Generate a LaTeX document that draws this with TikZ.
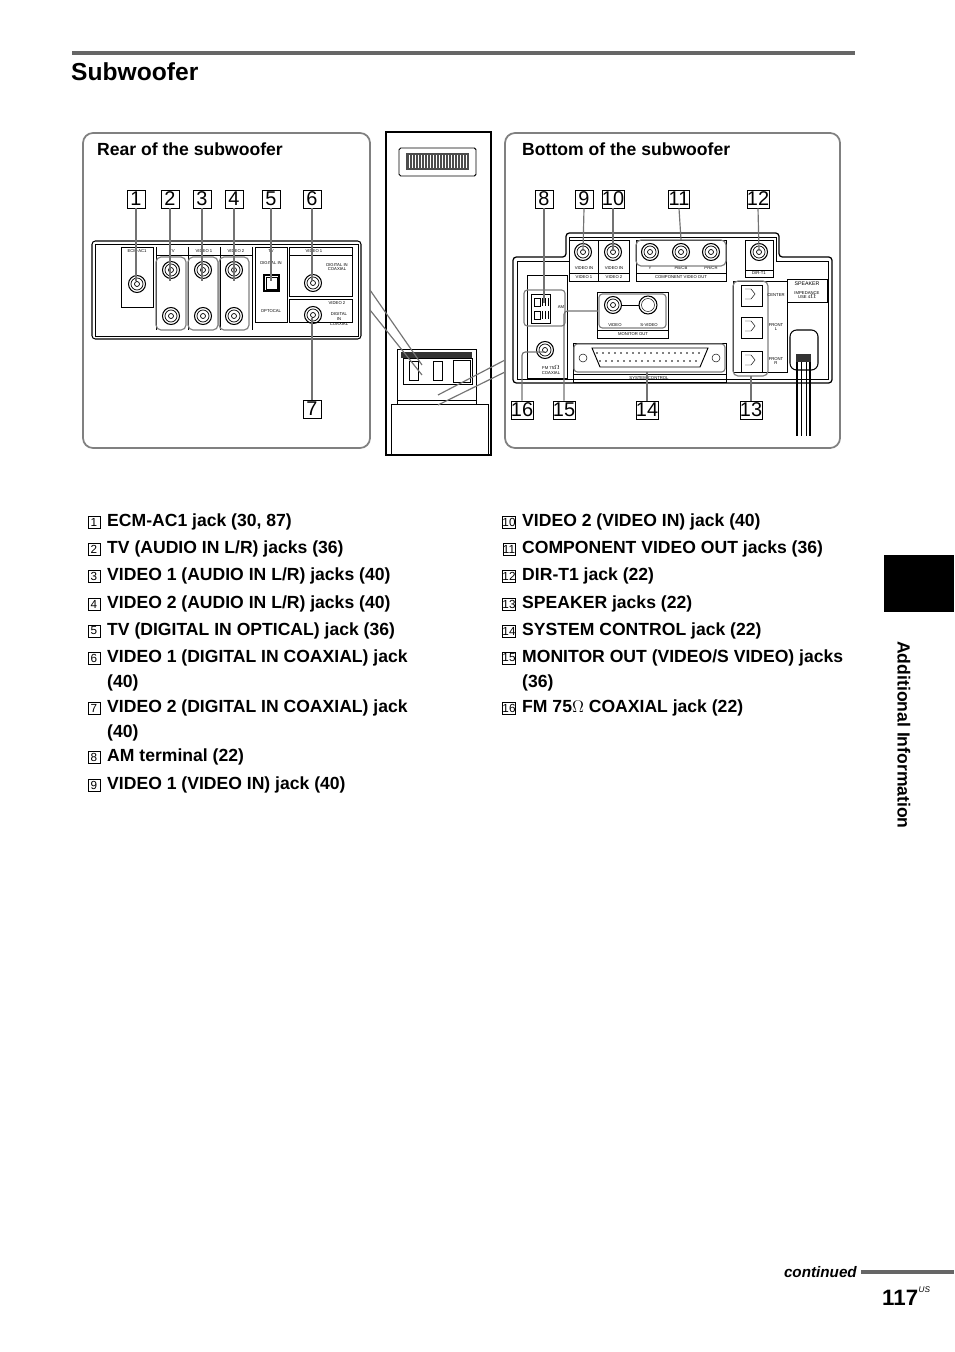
\documentclass[tikz,border=0pt]{standalone}
\usepackage{fontspec}
\setmainfont{Liberation Sans}
\usetikzlibrary{positioning}
\newcommand\tinyfont{\fontsize{3.6}{4}\selectfont}
\begin{document}
\begin{tikzpicture}[
        x=0.3mm, y=-0.3mm,
        marker/.style={draw=black, line width=0.6pt, minimum width=5.4mm, minimum height=5.4mm,
                       inner sep=0pt, font=\fontsize{17}{17}\selectfont},
        listmark/.style={draw=black, line width=0.4pt, minimum width=3.6mm, minimum height=3.6mm,
                       inner sep=0pt, font=\fontsize{10}{10}\selectfont},
        item/.style={anchor=north west, align=left, font=\bfseries\fontsize{15}{21}\selectfont, inner sep=0pt},
        panel/.style={draw=black!50, line width=1.5pt, rounded corners=3mm},
        paneltitle/.style={anchor=west, font=\bfseries\fontsize{15}{15}\selectfont, inner sep=0pt},
        lead/.style={line width=1pt, black!55},
        jacklabel/.style={font=\tinyfont, inner sep=0pt}
    ]
        \useasboundingbox (0,0) rectangle (954,1352);
        % heading
        \draw[black!60, line width=1.2mm] (72,53) -- (855,53);
        \node[anchor=west, font=\bfseries\fontsize{21}{21}\selectfont, inner sep=0pt] (title) at (71,72) {Subwoofer};

        % rear panel
        \draw[panel] (83,133) rectangle (370,448);
        \node[paneltitle] (reartitle) at (97,149) {Rear of the subwoofer};
        \draw[line width=0.9pt, rounded corners=1mm] (92,241) rectangle (361,339);
        \draw[line width=0.4pt] (95,244) rectangle (358,336);
        \draw[thin] (121,247) rectangle (153,307);
        \node[jacklabel] (ecmlbl) at (137,251) {ECM-AC1};
        \draw[thin] (156,247) -- (156,330) (188,247) -- (188,330) (220,247) -- (220,330) (252,247) -- (252,330);
        \draw[thin] (156,255) -- (252,255);
        \node[jacklabel] (tvlbl) at (172,251) {TV};
        \node[jacklabel] (v1lbl) at (204,251) {VIDEO 1};
        \node[jacklabel] (v2lbl) at (236,251) {VIDEO 2};
        \draw[thin] (255,247) rectangle (287,322);
        \node[jacklabel] (dtvlbl) at (271,251) {TV};
        \node[jacklabel] (dinlbl) at (271,263) {DIGITAL IN};
        \node[jacklabel] (optlbl) at (271,311) {OPTOCAL};
        \draw[thin] (289,247) rectangle (352,296);
        \node[jacklabel] (dv1lbl) at (314,251) {VIDEO 1};
        \draw[thin] (289,255) -- (352,255);
        \node[jacklabel, align=center] (coax1lbl) at (337,267) {DIGITAL IN\\COAXIAL};
        \draw[thin] (289,299) rectangle (352,322);
        \node[jacklabel] (dv2lbl) at (337,303) {VIDEO 2};
        \node[jacklabel, align=center] (coax2lbl) at (339,319) {DIGITAL\\IN\\COAXIAL};
        \foreach \px/\py in {137/284, 171/270, 171/316, 203/270, 203/316, 234/270, 234/316, 313/283, 313/315} {
            \draw[line width=0.9pt] (\px,\py) circle (8.5);
            \draw[line width=0.6pt] (\px,\py) circle (6);
            \draw[line width=0.6pt] (\px,\py) circle (2.5);
        }
        \foreach \gx in {171, 203, 234}
            \draw[black!50, line width=1pt, rounded corners=1.5mm] (\gx-15,257) rectangle (\gx+15,330);
        \draw[line width=1.3pt] (264,275) rectangle (279,291);
        \draw[thin] (266,277) rectangle (277,289);

        \foreach \n/\mx in {1/136, 2/170, 3/202, 4/234, 5/271, 6/312} {
            \node[marker] (m\n) at (\mx,199) {\n};
            \draw[lead] (m\n.south) -- (\mx,281);
        }
        \node[marker] (m7) at (312,409) {7};
        \draw[lead] (m7.north) -- (312,318);

        % subwoofer body
        \draw[line width=1.2pt] (386,132) -- (386,455) -- (491,455) -- (491,132) -- cycle;
        \draw[line width=0.8pt, rounded corners=0.5mm] (399,148) rectangle (476,176);
        \fill[black!70] (406,153) rectangle (469,170);
        \foreach \gx in {409,412,...,466} \draw[white, thin] (\gx,155) -- (\gx,168);
        \draw[line width=0.8pt] (397,349) rectangle (476,404);
        \fill[black!80] (401,352) rectangle (472,358);
        \draw[line width=0.6pt] (403,358) rectangle (472,384);
        \draw[thin] (409,361) rectangle (418,380) (433,361) rectangle (442,380) (453,360) rectangle (470,382);
        \draw[thin] (397,400) -- (476,400);
        \draw[line width=0.8pt] (391,404) rectangle (488,455);
        \draw[line width=1pt] (391,455) -- (398,455) (430,455) -- (438,455) (478,455) -- (486,455);
        \draw[lead] (370,290) -- (422,365);
        \draw[lead] (370,310) -- (422,375);
        \draw[lead] (505,360) -- (438,395);
        \draw[lead] (505,372) -- (438,405);

        % bottom panel
        \draw[panel] (505,133) rectangle (840,448);
        \node[paneltitle] (bottitle) at (522,149) {Bottom of the subwoofer};
        \draw[line width=1.1pt, rounded corners=1mm] (513,383) -- (513,257) -- (566,257) -- (566,233) -- (779,233) -- (779,257) -- (832,257) -- (832,383) -- cycle;
        \draw[line width=0.4pt] (517,379) -- (517,261) -- (569,261) -- (569,237) -- (776,237) -- (776,261) -- (828,261) -- (828,379) -- cycle;
        \draw[thin] (569,240) rectangle (629,281) (598,240) -- (598,281) (569,273) -- (629,273);
        \node[jacklabel] (vin1lbl) at (584,268) {VIDEO IN};
        \node[jacklabel] (vin2lbl) at (614,268) {VIDEO IN};
        \node[jacklabel] (vid1lbl) at (584,277) {VIDEO 1};
        \node[jacklabel] (vid2lbl) at (614,277) {VIDEO 2};
        \draw[thin] (636,240) rectangle (726,281) (636,273) -- (726,273);
        \node[jacklabel] (yl) at (650,268) {Y};
        \node[jacklabel] (pbl) at (681,268) {PB/CB};
        \node[jacklabel] (prl) at (711,268) {PR/CR};
        \node[jacklabel] (compl) at (681,277) {COMPONENT VIDEO OUT};
        \draw[thin] (745,240) rectangle (773,277) (745,270) -- (773,270);
        \node[jacklabel] (dirl) at (759,273) {DIR-T1};
        \draw[thin] (527,275) rectangle (567,378);
        \draw[black!50, line width=1pt, rounded corners=1mm] (524,290) rectangle (565,326);
        \draw[line width=0.8pt] (531,294) rectangle (550,323);
        \draw[thin] (534,298) rectangle (540,306) (534,311) rectangle (540,319);
        \foreach \ty in {298,311} \foreach \tx in {542,545,548} \draw[thin] (\tx,\ty) -- (\tx,\ty+8);
        \node[jacklabel] (aml) at (561,307) {AM};
        \node[jacklabel, align=center] (fml) at (551,370) {FM 75$\Omega$\\COAXIAL};
        \draw[thin] (597,292) rectangle (668,338) (597,330) -- (668,330);
        \draw[black!50, line width=1pt, rounded corners=1mm] (599,294) rectangle (666,328);
        \node[jacklabel] (videol) at (615,325) {VIDEO};
        \node[jacklabel] (svideol) at (649,325) {S-VIDEO};
        \node[jacklabel] (monl) at (633,334) {MONITOR OUT};
        \foreach \px/\py in {583/252, 613/252, 650/252, 681/252, 711/252, 759/252, 613/305, 545/350} {
            \draw[line width=0.9pt] (\px,\py) circle (8.5);
            \draw[line width=0.6pt] (\px,\py) circle (6);
            \draw[line width=0.6pt] (\px,\py) circle (2.5);
        }
        \draw[black!50, line width=1pt, rounded corners=1.5mm] (636,240) rectangle (726,266);
        \draw[line width=0.9pt] (648,305) circle (9);
        \draw[thin] (648,305) circle (6.5);
        \draw[thin] (621,305) -- (639,305);
        \draw[thin] (573,343) rectangle (726,382) (573,374) -- (726,374);
        \draw[black!50, line width=1pt, rounded corners=1mm] (574,344) rectangle (725,372);
        \draw[line width=0.8pt] (592,348) -- (708,348) -- (700,367) -- (600,367) -- cycle;
        \foreach \sx in {597,603,...,703} \fill (\sx,353) circle (0.9);
        \foreach \sx in {600,606,...,700} \fill (\sx,361) circle (0.9);
        \draw[thin] (583,358) circle (4) (716,358) circle (4);
        \node[jacklabel] (sysl) at (649,378) {SYSTEM CONTROL};
        \draw[thin] (733,281) rectangle (787,372);
        \draw[thin] (787,279) rectangle (827,302);
        \node[jacklabel, font=\fontsize{4.5}{5}\selectfont] (spkl) at (807,284) {SPEAKER};
        \node[jacklabel, align=center] (impl) at (807,295) {IMPEDANCE\\USE 4$\Omega$};
        \draw[black!50, line width=1pt, rounded corners=1.5mm] (733,281) rectangle (768,376);
        \foreach \sy/\slbl in {295/CENTER, 327/{FRONT\\L}, 361/{FRONT\\R}} {
            \draw[line width=0.8pt] (741,285) ++(0,\sy-295) rectangle ++(21,21);
            \draw[thin] (745,289) ++(0,\sy-295) -- ++(6,0) -- ++(4,5) -- ++(-4,5) -- ++(-6,0);
            \node[jacklabel, align=center] at (776,\sy) {\slbl};
        }
        \draw[line width=0.9pt, rounded corners=2mm] (790,330) rectangle (818,370);
        \fill[black!80] (796,354) rectangle (811,362);
        \draw[line width=0.9pt] (797,362) -- (797,436) (810,362) -- (810,436);
        \draw[thin] (801,362) -- (801,436) (806,362) -- (806,436);

        \foreach \n/\mx in {8/544, 9/584, 10/613, 11/679, 12/758} {
            \node[marker] (m\n) at (\mx,199) {\n};
        }
        \draw[lead] (m8.south) -- (544,303);
        \draw[lead] (m9.south) -- (583,251);
        \draw[lead] (m10.south) -- (613,251);
        \draw[lead] (m11.south) -- (681,240);
        \draw[lead] (m12.south) -- (759,251);
        \node[marker] (m16) at (522,410) {16};
        \node[marker] (m15) at (564,410) {15};
        \node[marker] (m14) at (647,410) {14};
        \node[marker] (m13) at (751,410) {13};
        \draw[lead, rounded corners=1mm] (m16.north) -- (522,352) -- (545,352);
        \draw[lead, rounded corners=1mm] (m15.north) -- (564,311) -- (598,311);
        \draw[lead] (m14.north) -- (647,372);
        \draw[lead] (m13.north) -- (751,376);

        % list
        \foreach \n/\ly/\txt in {1/514/{ECM-AC1 jack (30, 87)}, 2/541/{TV (AUDIO IN L/R) jacks (36)},
            3/568/{VIDEO 1 (AUDIO IN L/R) jacks (40)}, 4/596/{VIDEO 2 (AUDIO IN L/R) jacks (40)},
            5/623/{TV (DIGITAL IN OPTICAL) jack (36)}, 6/650/{VIDEO 1 (DIGITAL IN COAXIAL) jack\\(40)},
            7/700/{VIDEO 2 (DIGITAL IN COAXIAL) jack\\(40)}, 8/749/{AM terminal (22)},
            9/777/{VIDEO 1 (VIDEO IN) jack (40)}} {
            \node[listmark] (l\n) at (94,\ly+8) {\n};
            \node[item] (t\n) at (107,\ly) {\txt};
        }
        \foreach \n/\ly/\txt in {10/514/{VIDEO 2 (VIDEO IN) jack (40)}, 11/541/{COMPONENT VIDEO OUT jacks (36)},
            12/568/{DIR-T1 jack (22)}, 13/596/{SPEAKER jacks (22)}, 14/623/{SYSTEM CONTROL jack (22)},
            15/650/{MONITOR OUT (VIDEO/S VIDEO) jacks\\(36)}, 16/700/{FM 75$\Omega$ COAXIAL jack (22)}} {
            \node[listmark] (l\n) at (509,\ly+8) {\n};
            \node[item] (t\n) at (522,\ly) {\txt};
        }

        % side tab and footer
        \fill[black] (884,555) rectangle (954,612);
        \node[rotate=-90, font=\bfseries\fontsize{15}{15}\selectfont, inner sep=0pt] (sidetab) at (904,735) {Additional Information};
        \node[anchor=east, font=\bfseries\itshape\fontsize{13}{13}\selectfont, inner sep=0pt] (cont) at (857,1272) {continued};
        \draw[black!60, line width=1.2mm] (cont.east) ++(4,0) -- (954,1272);
        \node[anchor=west, font=\bfseries\fontsize{19}{19}\selectfont, inner sep=0pt] (pagenum) at (882,1298) {117};
        \node[anchor=west, font=\itshape\fontsize{7}{7}\selectfont, inner sep=0pt] (us) at (pagenum.north east) {US};
    \end{tikzpicture}
\end{document}
